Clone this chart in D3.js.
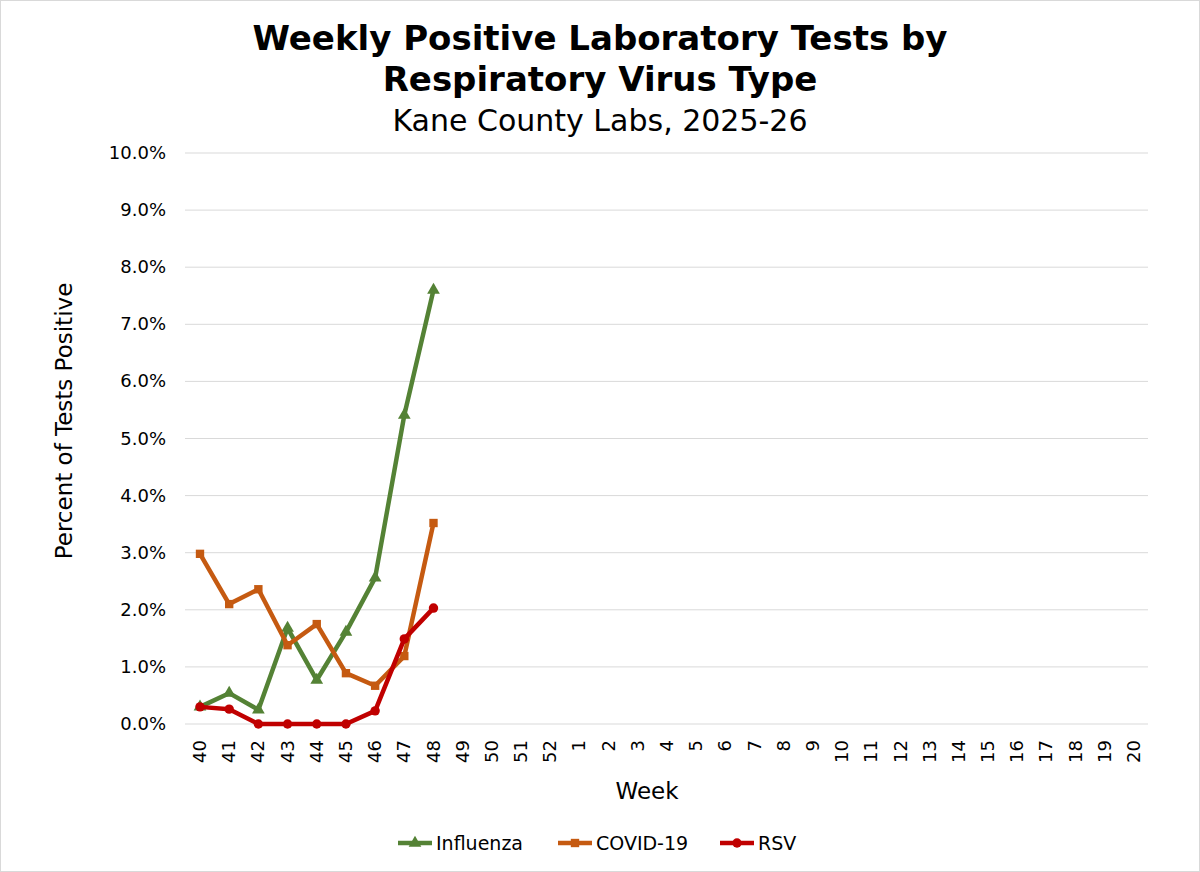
<!DOCTYPE html>
<html><head><meta charset="utf-8">
<script src="https://cdn.jsdelivr.net/npm/d3@7"></script>
<style>body{margin:0;background:#fff;font-family:"DejaVu Sans",Verdana,sans-serif}</style>
</head><body><svg id="chart" width="1200" height="872"></svg>
<script>
// data
const weeks = ['40','41','42','43','44','45','46','47','48','49','50','51','52','1','2','3','4','5','6','7','8','9','10','11','12','13','14','15','16','17','18','19','20'];
const influenza = [0.30, 0.54, 0.25, 1.68, 0.77, 1.61, 2.56, 5.41, 7.60];
const covid = [2.98, 2.10, 2.36, 1.38, 1.75, 0.89, 0.67, 1.19, 3.52];
const rsv = [0.30, 0.26, 0, 0, 0, 0, 0.23, 1.49, 2.03];
const yTicks = [0,1,2,3,4,5,6,7,8,9,10];

const svg = d3.select('#chart');
svg.append('rect').attr('x',0.5).attr('y',0.5).attr('width',1199).attr('height',871)
  .attr('fill','#fff').attr('stroke','#d9d9d9');

const margin = {left:185, right:1148, top:153, bottom:724};
const x = d3.scalePoint().domain(weeks).range([200, 1134]);
const y = d3.scaleLinear().domain([0,10]).range([margin.bottom, margin.top]);

// 网格线
svg.append('g').selectAll('line').data(yTicks).join('line')
  .attr('x1',margin.left).attr('x2',margin.right)
  .attr('y1',d=>y(d)).attr('y2',d=>y(d))
  .attr('stroke','#d9d9d9');

// y轴标签
svg.append('g').selectAll('text').data(yTicks).join('text')
  .attr('x',166).attr('y',d=>y(d)+6).attr('text-anchor','end')
  .attr('font-size',18).attr('fill','#000').text(d=>d.toFixed(1)+'%');

// x轴标签
svg.append('g').selectAll('text').data(weeks).join('text')
  .attr('transform',d=>`translate(${x(d)+6},740) rotate(-90)`)
  .attr('text-anchor','end').attr('font-size',18).text(d=>d);

// 标题
svg.append('text').attr('x',600).attr('y',50).attr('text-anchor','middle')
  .attr('font-size',34).attr('font-weight','bold').text('Weekly Positive Laboratory Tests by');
svg.append('text').attr('x',600).attr('y',91).attr('text-anchor','middle')
  .attr('font-size',34).attr('font-weight','bold').text('Respiratory Virus Type');
svg.append('text').attr('x',600).attr('y',131).attr('text-anchor','middle')
  .attr('font-size',30).text('Kane County Labs, 2025-26');

svg.append('text').attr('x',647).attr('y',799).attr('text-anchor','middle')
  .attr('font-size',23).text('Week');
svg.append('text').attr('transform','translate(72,421) rotate(-90)').attr('text-anchor','middle')
  .attr('font-size',23).text('Percent of Tests Positive');

const series = [
  {name:'Influenza', values:influenza, color:'#548235', shape:d3.symbolTriangle},
  {name:'COVID-19', values:covid, color:'#C55A11', shape:d3.symbolSquare},
  {name:'RSV', values:rsv, color:'#C00000', shape:d3.symbolCircle}
];
const line = d3.line().x((d,i)=>x(weeks[i])).y(d=>y(d));

series.forEach(s=>{
  const g = svg.append('g');
  g.append('path').datum(s.values).attr('d',line).attr('fill','none')
    .attr('stroke',s.color).attr('stroke-width',4.5).attr('stroke-linejoin','round');
  g.selectAll('path.m').data(s.values).join('path').attr('class','m')
    .attr('transform',(d,i)=>`translate(${x(weeks[i])},${y(d)})`)
    .attr('d',d3.symbol().type(s.shape).size(70)).attr('fill',s.color);
});

// 图例
const legX = [398, 558, 720];
series.forEach((s,i)=>{
  const g = svg.append('g').attr('transform',`translate(${legX[i]},843)`);
  g.append('line').attr('x1',0).attr('x2',34).attr('stroke',s.color).attr('stroke-width',4.5);
  g.append('path').attr('transform','translate(17,0)').attr('d',d3.symbol().type(s.shape).size(70)).attr('fill',s.color);
  g.append('text').attr('x',38).attr('y',7).attr('font-size',19).text(s.name);
});
</script></body></html>
